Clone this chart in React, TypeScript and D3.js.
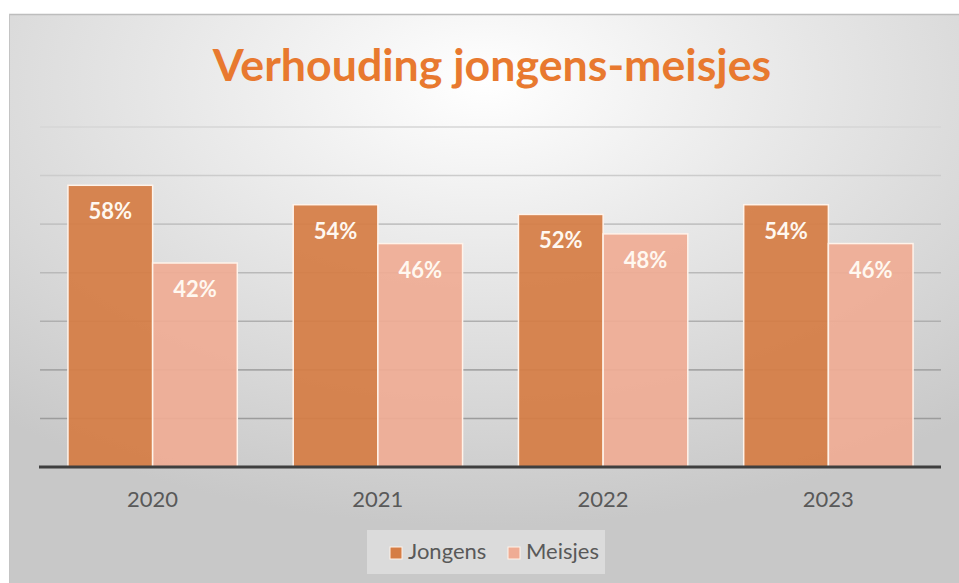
import React from "react";
import * as d3 from "d3";

const years = ["2020", "2021", "2022", "2023"];
const seriesNames = ["Jongens", "Meisjes"];
const jongens = [0.58, 0.54, 0.52, 0.54];
const meisjes = [0.42, 0.46, 0.48, 0.46];
const yTicks = [0, 0.1, 0.2, 0.3, 0.4, 0.5, 0.6, 0.7];
const title = "Verhouding jongens-meisjes";

const W = 959;
const H = 583;
const colors = ["#D57D45", "#EFAC94"];
const font = "Lato, 'Open Sans', sans-serif";

export default function App() {
  const left = 40;
  const right = 941;
  const top = 127;
  const bottom = 467;

  const x0 = d3.scaleBand<string>().domain(years).range([left, right]).padding(0);
  const x1 = d3
    .scaleBand<string>()
    .domain(seriesNames)
    .range([0, x0.bandwidth()])
    .paddingInner(0)
    .paddingOuter(0.33);
  const y = d3.scaleLinear().domain([0, 0.7]).range([bottom, top]);
  const gridColor = d3.scaleLinear<string>().domain([0.7, 0.1]).range(["#D6D6D6", "#9C9C9C"]).clamp(true);

  const values = [jongens, meisjes];
  const pct = d3.format(".0%");

  return (
    <svg
      width={W}
      height={H}
      style={{ position: "absolute", left: 0, top: 0, background: "#fff" }}
    >
      <defs>
        <radialGradient id="bg" cx="0.5" cy="0.12" r="0.78" fx="0.5" fy="0.12">
          <stop offset="0" stopColor="#FFFFFF" />
          <stop offset="0.45" stopColor="#E6E6E6" />
          <stop offset="1" stopColor="#C8C8C8" />
        </radialGradient>
      </defs>
      <rect x={9} y={14} width={W - 9} height={H - 14} fill="url(#bg)" />
      <line x1={9} x2={W} y1={14.5} y2={14.5} stroke="#BDBDBD" strokeWidth={1.5} />
      <line x1={9.5} x2={9.5} y1={14} y2={H} stroke="#C4C4C4" strokeWidth={1} />

      <text
        x={492}
        y={81}
        textAnchor="middle"
        fontFamily={font}
        fontWeight={700}
        fontSize={44.7}
        fill="#E8792F"
      >
        {title}
      </text>

      {yTicks
        .filter((t) => t > 0)
        .map((t) => (
          <line
            key={t}
            x1={left}
            x2={right}
            y1={y(t)}
            y2={y(t)}
            stroke={gridColor(t)}
            strokeWidth={1.6}
          />
        ))}

      {years.map((yr, i) => (
        <g key={yr} transform={`translate(${x0(yr)},0)`}>
          {seriesNames.map((s, j) => {
            const v = values[j][i];
            const bx = x1(s)!;
            const bw = x1.bandwidth();
            return (
              <g key={s}>
                <rect
                  x={bx}
                  y={y(v)}
                  width={bw}
                  height={bottom - y(v)}
                  fill={colors[j]}
                  fillOpacity={0.93}
                  stroke="#FFF3EA"
                  strokeWidth={1.5}
                />
                <text
                  x={bx + bw / 2}
                  y={y(v) + 34}
                  textAnchor="middle"
                  fontFamily={font}
                  fontWeight={700}
                  fontSize={22}
                  fill="#FFF8F0"
                >
                  {pct(v)}
                </text>
              </g>
            );
          })}
          <text
            x={x0.bandwidth() / 2}
            y={507}
            textAnchor="middle"
            fontFamily={font}
            fontSize={22}
            fill="#595959"
          >
            {yr}
          </text>
        </g>
      ))}

      <line x1={left - 1} x2={right} y1={bottom} y2={bottom} stroke="#3F3F3F" strokeWidth={3} />

      <rect x={367} y={530} width={238} height={44} fill="#FFFFFF" fillOpacity={0.35} />
      {seriesNames.map((s, j) => {
        const lx = j === 0 ? 390 : 508;
        return (
          <g key={s}>
            <rect x={lx} y={547} width={12} height={12} fill={colors[j]} stroke="#FFF3EA" strokeWidth={1} />
            <text x={lx + 18} y={559} fontFamily={font} fontSize={22} fill="#595959">
              {s}
            </text>
          </g>
        );
      })}
    </svg>
  );
}
